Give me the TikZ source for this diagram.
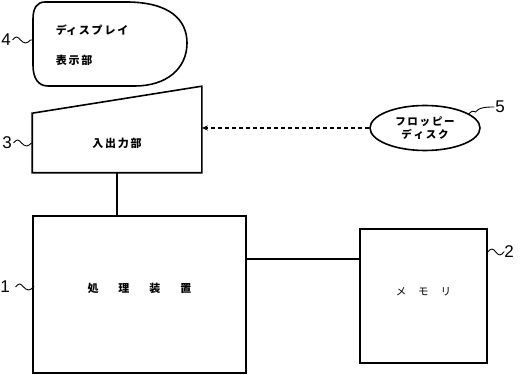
\documentclass[tikz,border=0pt]{standalone}
\usepackage{fontspec}
\setmainfont{Liberation Sans}
\newfontfamily\jpfont{Noto Sans CJK JP}
\usetikzlibrary{arrows.meta,calc,positioning,shapes.geometric}

\begin{document}
\begin{tikzpicture}[
  x=1pt, y=1pt,
  line width=1.6pt,
  refnum/.style={font=\fontsize{17}{17}\selectfont, inner sep=0pt},
  jptext/.style={font=\jpfont\bfseries\fontsize{11}{30}\selectfont, inner sep=0pt},
  unit/.style={draw, rectangle, inner sep=0pt, font=\jpfont\bfseries\fontsize{11}{12}\selectfont},
  squiggle/.style={line width=0.9pt},
  link/.style={line width=1.3pt},
]
\useasboundingbox (0,0) rectangle (528,375);

% -------------------------------------------------------------------------
% Display (4)
% -------------------------------------------------------------------------
\draw (45,373) -- (126,373) .. controls (170,373) and (187,355) .. (187,332)
  .. controls (187,306) and (166,289) .. (135,289) -- (48,289)
  .. controls (38,289) and (33,297) .. (33,310) -- (33,356)
  .. controls (33,367) and (37,373) .. (45,373);
\node[jptext, align=left, anchor=west] (disp) at (55,330)
  {ディ\,ス\,プ\,レ\,イ\\表\,示\,部};
\coordinate (dispedge) at (33,335);
\node[refnum] (n4) at (6,335) {4};
\draw[squiggle] (n4.east) ++(1,0) sin ++(4,3) cos ++(4,-3) sin ++(5,-3) cos ++(5,3) -- (dispedge);

% -------------------------------------------------------------------------
% Input/output unit (3)
% -------------------------------------------------------------------------
\node[inner sep=0pt, minimum width=168pt, minimum height=58pt,
      font=\jpfont\bfseries\fontsize{11}{12}\selectfont] (io) at (117,232) {入\,出\,力\,部};
\draw (io.south west) -- (io.north west) -- ($(io.north east)+(0,27)$)
  -- (io.south east) -- cycle;
\node[refnum] (n3) at (7,232) {3};
\draw[squiggle] (n3.east) ++(1,0) sin ++(4,3) cos ++(4,-3) sin ++(5,-3) cos ++(5,3) -- (io.west);

% -------------------------------------------------------------------------
% Floppy disk (5)
% -------------------------------------------------------------------------
\node[ellipse, draw, minimum width=110pt, minimum height=45pt, inner sep=0pt,
      align=center, font=\jpfont\bfseries\fontsize{10.5}{13}\selectfont] (fd) at (425,247)
  {フ\,ロ\,ッ\,ピ\,ー\\デ\,ィ\,ス\,ク};
\node[refnum] (n5) at (500,268) {5};
\draw[squiggle] (fd.18) .. controls +(6,6) and +(-3,-4) .. ++(8,3)
  .. controls +(3,4) and +(-3,0) .. (n5.west);
\draw[link, dash pattern=on 4pt off 3pt, -{Stealth[length=6pt,width=5pt]}]
  (fd.west) -- (fd.west -| io.east);

% -------------------------------------------------------------------------
% Processing unit (1) and memory (2)
% -------------------------------------------------------------------------
\node[unit, minimum width=213pt, minimum height=157pt] (cpu) at (139.5,80.5)
  {\raisebox{14pt}{処\hspace{20pt}理\hspace{20pt}装\hspace{20pt}置}};
\node[refnum] (n1) at (5,88) {1};
\draw[squiggle] (n1.east) ++(5,0) sin ++(4,3) cos ++(4,-3) sin ++(5,-3) cos ++(5,3)
  -- (cpu.west |- n1.east);

\node[unit, font=\jpfont\fontsize{10.5}{12}\selectfont,
      minimum width=127pt, minimum height=134pt] (mem) at (423.5,79)
  {\raisebox{8pt}{メ\hspace{12pt}モ\hspace{12pt}リ}};
\node[refnum] (n2) at (509,123) {2};
\draw[squiggle] (mem.east |- n2.west) sin ++(4,3) cos ++(4,-3) sin ++(4,-3) cos ++(4,3)
  -- (n2.west);

\draw[link] (io.south) -- (io.south |- cpu.north);
\coordinate (bus) at (246,116);
\draw[link] (bus) -- (bus -| mem.west);
\end{tikzpicture}
\end{document}
